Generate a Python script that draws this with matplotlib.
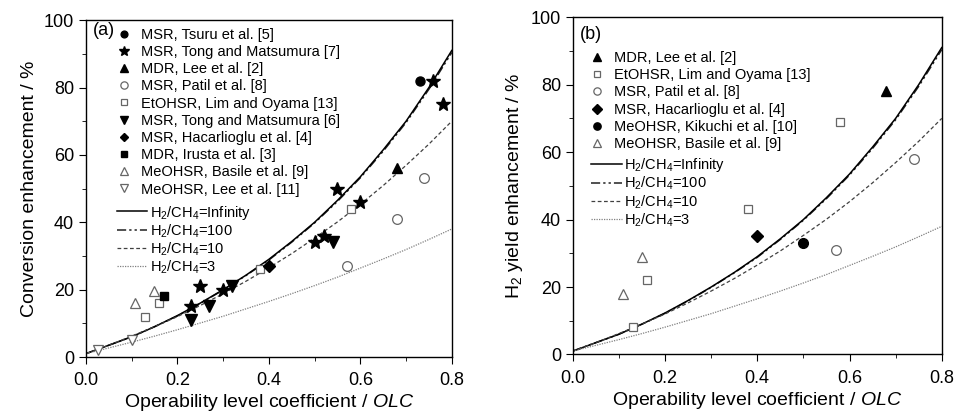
import matplotlib
matplotlib.use("Agg")
import matplotlib.pyplot as plt
from matplotlib.ticker import MultipleLocator, FormatStrFormatter

plt.rcParams['font.family'] = ['Liberation Sans', 'DejaVu Sans']
plt.rcParams['mathtext.fontset'] = 'custom'
plt.rcParams['mathtext.rm'] = 'Liberation Sans'
plt.rcParams['mathtext.it'] = 'Liberation Sans:italic'

# model curves, same in both panels
olc = [0.0, 0.05, 0.1, 0.15, 0.2, 0.25, 0.3, 0.35, 0.4, 0.45, 0.5, 0.55, 0.6, 0.65, 0.7, 0.75, 0.8]
ratio_inf = [1.0, 3.5, 6.0, 9.0, 12.3, 16.0, 20.0, 24.3, 29.0, 34.3, 40.0, 46.5, 53.5, 61.5, 70.0, 80.0, 91.0]
ratio_100 = [1.0, 3.5, 6.0, 9.0, 12.2, 15.9, 19.9, 24.2, 28.8, 34.1, 39.8, 46.2, 53.2, 61.1, 69.6, 79.5, 90.4]
ratio_10 = [1.0, 3.5, 6.2, 9.0, 12.0, 15.3, 18.8, 22.5, 26.5, 30.7, 35.3, 40.1, 45.3, 50.9, 56.9, 63.2, 70.0]
ratio_3 = [1.0, 2.7, 4.4, 6.2, 8.1, 10.1, 12.1, 14.3, 16.5, 18.8, 21.2, 23.7, 26.4, 29.1, 31.9, 34.9, 38.0]

# panel (a): conversion enhancement
tsuru5_x, tsuru5_y = [0.73], [82]
tong7_x = [0.23, 0.25, 0.30, 0.50, 0.52, 0.55, 0.60, 0.76, 0.78]
tong7_y = [15, 21, 20, 34, 36, 50, 46, 82, 75]
lee2_x, lee2_y = [0.68], [56]
patil8_x, patil8_y = [0.57, 0.68, 0.74], [27, 41, 53]
lim13_x, lim13_y = [0.13, 0.16, 0.38, 0.58], [12, 16, 26, 44]
tong6_x, tong6_y = [0.23, 0.27, 0.32, 0.54], [11, 15, 21, 34]
hac4_x, hac4_y = [0.40], [27]
irusta3_x, irusta3_y = [0.17], [18]
basile9_x, basile9_y = [0.107, 0.149], [16, 19.5]
lee11_x, lee11_y = [0.027, 0.10], [2, 5]

# panel (b): H2 yield enhancement
b_lee2_x, b_lee2_y = [0.68], [78]
b_lim13_x, b_lim13_y = [0.13, 0.16, 0.38, 0.58], [8, 22, 43, 69]
b_patil8_x, b_patil8_y = [0.57, 0.74], [31, 58]
b_hac4_x, b_hac4_y = [0.40], [35]
b_kik10_x, b_kik10_y = [0.50], [33]
b_basile9_x, b_basile9_y = [0.11, 0.15], [18, 29]

GRAY = '#666666'
filled = dict(color='black', linestyle='none')
opened = dict(color=GRAY, markerfacecolor='white', markeredgewidth=0.9, linestyle='none')

fig = plt.figure(figsize=(9.6, 4.2), dpi=100)
ax1 = fig.add_axes([0.0896, 0.150, 0.381, 0.802])
ax2 = fig.add_axes([0.5966, 0.156, 0.3844, 0.803])


def draw_curves(ax):
    # H2/CH4=100 drawn first so the solid curve sits on top of it
    l100, = ax.plot(olc, ratio_100, color='#202020', lw=1.1, dashes=(6, 2, 1.5, 2, 1.5, 2),
                    label='H$_2$/CH$_4$=100')
    linf, = ax.plot(olc, ratio_inf, '-', color='black', lw=1.1, label='H$_2$/CH$_4$=Infinity')
    l10, = ax.plot(olc, ratio_10, color='#404040', lw=0.9, dashes=(3, 2), label='H$_2$/CH$_4$=10')
    l3, = ax.plot(olc, ratio_3, color='#808080', lw=0.9, dashes=(1, 1), label='H$_2$/CH$_4$=3')
    return [linf, l100, l10, l3]


def style(ax, ylabel):
    ax.set_xlim(0, 0.8)
    ax.set_ylim(0, 100)
    ax.xaxis.set_major_locator(MultipleLocator(0.2))
    ax.xaxis.set_minor_locator(MultipleLocator(0.1))
    ax.xaxis.set_major_formatter(FormatStrFormatter('%.1f'))
    ax.yaxis.set_major_locator(MultipleLocator(20))
    ax.yaxis.set_minor_locator(MultipleLocator(10))
    ax.tick_params(which='both', direction='out', top=False, right=False, labelsize=13)
    ax.tick_params(which='major', length=5)
    ax.tick_params(which='minor', length=3)
    ax.tick_params(axis='x', pad=6)
    ax.set_xlabel('Operability level coefficient / $\\mathit{OLC}$', fontsize=14, labelpad=2)
    ax.set_ylabel(ylabel, fontsize=14, labelpad=4)
    for s in ax.spines.values():
        s.set_linewidth(1.0)


mk_kw = dict(frameon=False, fontsize=10.5, borderaxespad=0, labelspacing=0.22,
             handlelength=1.0, handletextpad=0.7, markerscale=0.75)
ln_kw = dict(frameon=False, fontsize=10.5, borderaxespad=0, labelspacing=0.05,
             handlelength=2.1, handletextpad=0.15)

# ---- panel (a)
lines_a = draw_curves(ax1)
pts_a = []
pts_a += ax1.plot(tsuru5_x, tsuru5_y, 'o', ms=6.5, label='MSR, Tsuru et al. [5]', **filled)
pts_a += ax1.plot(tong7_x, tong7_y, '*', ms=10, label='MSR, Tong and Matsumura [7]', **filled)
pts_a += ax1.plot(lee2_x, lee2_y, '^', ms=7, label='MDR, Lee et al. [2]', **filled)
pts_a += ax1.plot(patil8_x, patil8_y, 'o', ms=7, label='MSR, Patil et al. [8]', **opened)
pts_a += ax1.plot(lim13_x, lim13_y, 's', ms=6, label='EtOHSR, Lim and Oyama [13]', **opened)
pts_a += ax1.plot(tong6_x, tong6_y, 'v', ms=8, label='MSR, Tong and Matsumura [6]', **filled)
pts_a += ax1.plot(hac4_x, hac4_y, 'D', ms=6, label='MSR, Hacarlioglu et al. [4]', **filled)
pts_a += ax1.plot(irusta3_x, irusta3_y, 's', ms=6, label='MDR, Irusta et al. [3]', **filled)
pts_a += ax1.plot(basile9_x, basile9_y, '^', ms=7.5, label='MeOHSR, Basile et al. [9]', **opened)
pts_a += ax1.plot(lee11_x, lee11_y, 'v', ms=7.5, label='MeOHSR, Lee et al. [11]', **opened)
style(ax1, 'Conversion enhancement / %')
ax1.text(0.02, 0.995, '(a)', transform=ax1.transAxes, fontsize=13, va='top', ha='left')

lg1 = ax1.legend(handles=pts_a, loc='upper left', bbox_to_anchor=(0.067, 0.995), **mk_kw)
ax1.add_artist(lg1)
ax1.legend(handles=lines_a, loc='upper left', bbox_to_anchor=(0.068, 0.473), **ln_kw)

# ---- panel (b)
lines_b = draw_curves(ax2)
pts_b = []
pts_b += ax2.plot(b_lee2_x, b_lee2_y, '^', ms=7.5, label='MDR, Lee et al. [2]', **filled)
pts_b += ax2.plot(b_lim13_x, b_lim13_y, 's', ms=6, label='EtOHSR, Lim and Oyama [13]', **opened)
pts_b += ax2.plot(b_patil8_x, b_patil8_y, 'o', ms=7, label='MSR, Patil et al. [8]', **opened)
pts_b += ax2.plot(b_hac4_x, b_hac4_y, 'D', ms=6.5, label='MSR, Hacarlioglu et al. [4]', **filled)
pts_b += ax2.plot(b_kik10_x, b_kik10_y, 'o', ms=7, label='MeOHSR, Kikuchi et al. [10]', **filled)
pts_b += ax2.plot(b_basile9_x, b_basile9_y, '^', ms=7.5, label='MeOHSR, Basile et al. [9]', **opened)
style(ax2, 'H$_2$ yield enhancement / %')
ax2.text(0.02, 0.975, '(b)', transform=ax2.transAxes, fontsize=13, va='top', ha='left')

lg2 = ax2.legend(handles=pts_b, loc='upper left', bbox_to_anchor=(0.029, 0.917), **mk_kw)
ax2.add_artist(lg2)
ax2.legend(handles=lines_b, loc='upper left', bbox_to_anchor=(0.035, 0.605), **ln_kw)

fig.savefig('out.png', dpi=100)
